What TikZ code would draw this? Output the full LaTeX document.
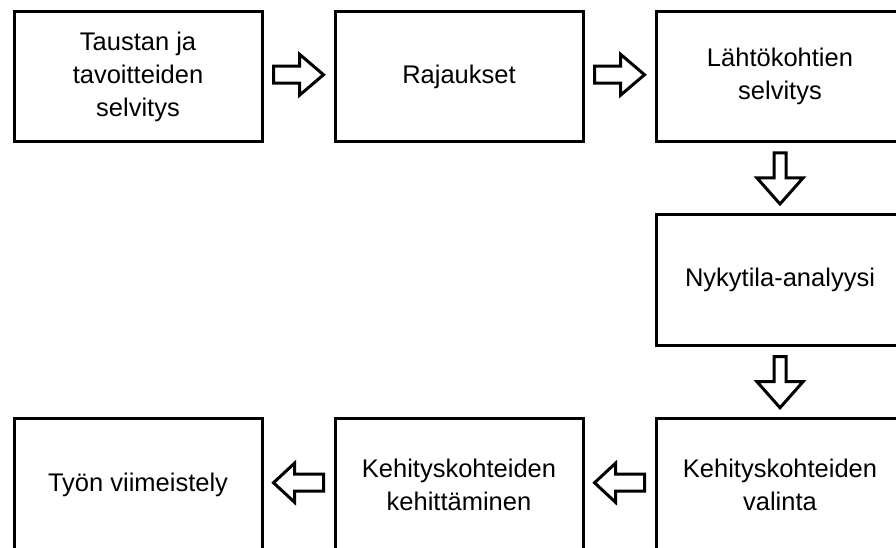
\documentclass[tikz,border=0pt]{standalone}
\usepackage{fontspec}
\setmainfont{Liberation Sans}
\usetikzlibrary{positioning,calc}

\tikzset{
  stagebox/.style={draw, line width=3pt, minimum width=248pt, minimum height=130.5pt,
    outer sep=0pt, inner sep=0pt, align=center, font=\fontsize{25.5}{33}\selectfont},
  % #1 length, #2 half shaft, #3 half head, #4 head length
  pics/flowarrow/.style args={#1/#2/#3/#4}{code={
    \draw [line width=3pt, line join=miter, fill=white]
      (-#1/2,-#2) -- (#1/2-#4,-#2) -- (#1/2-#4,-#3) -- (#1/2,0)
      -- (#1/2-#4,#3) -- (#1/2-#4,#2) -- (-#1/2,#2) -- cycle;
  }},
}

\begin{document}
\begin{tikzpicture}[x=1pt, y=1pt, node distance=73pt]
  \useasboundingbox (0,0) rectangle (896,548);
  \fill [white] (0,0) rectangle (896,548);
  \clip (0,0) rectangle (896,548);

  % Top row
  \node [stagebox] (tausta) at (138,471.25) {Taustan ja\\tavoitteiden\\selvitys};
  \node [stagebox, right=of tausta] (rajaus) {Rajaukset};
  \node [stagebox, right=of rajaus] (lahto) {Lähtökohtien\\selvitys};

  % Right column
  \node [stagebox, below=of lahto] (nyky) {Nykytila-analyysi};
  \node [stagebox, below=of nyky, minimum height=131.5pt, yshift=-0.5pt] (valinta) {Kehityskohteiden\\valinta};

  % Bottom row
  \node [stagebox, left=of valinta, minimum height=131.5pt] (kehitys) {Kehityskohteiden\\kehittäminen};
  \node [stagebox, left=of kehitys, minimum height=131.5pt] (viim) {Työn viimeistely};

  % Block arrows between the stages
  \pic [yshift=2pt] at ($(tausta.east)!0.5!(rajaus.west)$) {flowarrow=50/8.5/20.5/24};
  \pic [yshift=2pt] at ($(rajaus.east)!0.5!(lahto.west)$) {flowarrow=50/8.5/20.5/24};
  \pic [rotate=-90] at ($(lahto.south)!0.5!(nyky.north)$) {flowarrow=51/6/23/26};
  \pic [rotate=-90] at ($(nyky.south)!0.5!(valinta.north)$) {flowarrow=51/6/23/26};
  \pic [yshift=2pt, rotate=180] at ($(valinta.west)!0.5!(kehitys.east)$) {flowarrow=50/8.5/19.5/21};
  \pic [yshift=2pt, rotate=180] at ($(kehitys.west)!0.5!(viim.east)$) {flowarrow=50/8.5/19.5/21};
\end{tikzpicture}
\end{document}
